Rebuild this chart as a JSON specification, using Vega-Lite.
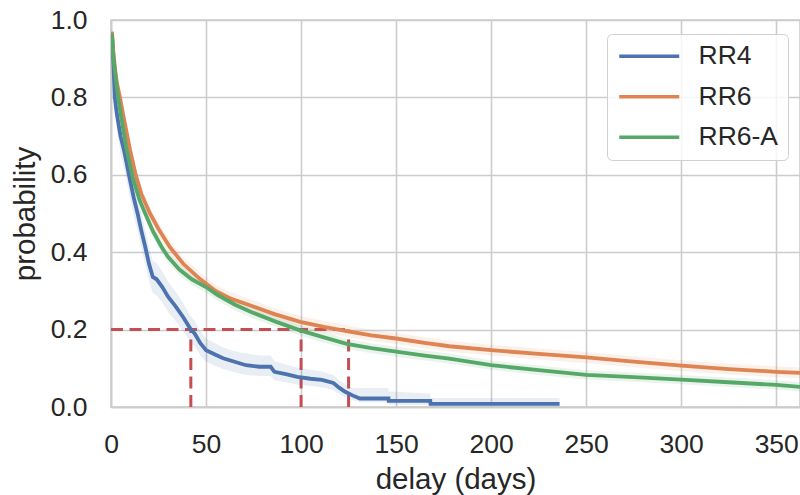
{
  "$schema": "https://vega.github.io/schema/vega-lite/v6.json",
  "width": 689,
  "height": 387,
  "autosize": {"type": "none"},
  "padding": {"left": 111, "top": 20, "right": 0, "bottom": 88},
  "config": {
    "background": "white",
    "font": "Liberation Sans",
    "view": {"stroke": "#cccccc", "strokeWidth": 1.6},
    "axis": {
      "grid": true, "gridColor": "#cccccc", "gridWidth": 1.6,
      "domainColor": "#cccccc", "domainWidth": 1.6, "ticks": false, "labelFlush": false,
      "labelFont": "Liberation Sans", "labelFontSize": 26.5, "labelColor": "#262626",
      "titleFont": "Liberation Sans", "titleFontSize": 29.5, "titleFontWeight": "normal", "titleColor": "#262626"
    },
    "axisX": {"labelPadding": 24, "titlePadding": 8},
    "axisY": {"labelPadding": 24, "titlePadding": 10},
    "legend": {
      "orient": "none", "legendX": 496, "legendY": 14, "title": null,
      "symbolType": "M-3,0H3", "symbolSize": 400, "symbolStrokeWidth": 3.5, "symbolOpacity": 1,
      "symbolOffset": 20, "labelOffset": 36, "rowPadding": 13.5,
      "labelFont": "Liberation Sans", "labelFontSize": 26.5, "labelColor": "#262626",
      "padding": 9, "strokeColor": "#d0d0d0", "fillColor": "rgba(255,255,255,0.8)", "cornerRadius": 5
    }
  },
  "datasets": {
    "ref": [
      {"x": 0, "x2": 125, "y": 0.2, "y2": 0.2},
      {"x": 42, "x2": 42, "y": 0, "y2": 0.2},
      {"x": 100, "x2": 100, "y": 0, "y2": 0.2},
      {"x": 125, "x2": 125, "y": 0, "y2": 0.2}
    ],
    "km": [
      {"g": "RR4", "d": 0.5, "p": 0.965, "lo": 0.95, "hi": 0.98},
      {"g": "RR4", "d": 1, "p": 0.92, "lo": 0.895, "hi": 0.945},
      {"g": "RR4", "d": 2, "p": 0.80, "lo": 0.765, "hi": 0.835},
      {"g": "RR4", "d": 3, "p": 0.76, "lo": 0.72, "hi": 0.80},
      {"g": "RR4", "d": 5, "p": 0.70, "lo": 0.655, "hi": 0.745},
      {"g": "RR4", "d": 7, "p": 0.66, "lo": 0.615, "hi": 0.705},
      {"g": "RR4", "d": 10, "p": 0.586, "lo": 0.54, "hi": 0.632},
      {"g": "RR4", "d": 12, "p": 0.54, "lo": 0.494, "hi": 0.586},
      {"g": "RR4", "d": 14, "p": 0.50, "lo": 0.454, "hi": 0.546},
      {"g": "RR4", "d": 16, "p": 0.455, "lo": 0.41, "hi": 0.50},
      {"g": "RR4", "d": 18, "p": 0.414, "lo": 0.37, "hi": 0.458},
      {"g": "RR4", "d": 20, "p": 0.37, "lo": 0.327, "hi": 0.413},
      {"g": "RR4", "d": 22, "p": 0.336, "lo": 0.294, "hi": 0.378},
      {"g": "RR4", "d": 24, "p": 0.33, "lo": 0.288, "hi": 0.372},
      {"g": "RR4", "d": 27, "p": 0.31, "lo": 0.27, "hi": 0.35},
      {"g": "RR4", "d": 30, "p": 0.285, "lo": 0.246, "hi": 0.324},
      {"g": "RR4", "d": 34, "p": 0.26, "lo": 0.222, "hi": 0.298},
      {"g": "RR4", "d": 38, "p": 0.232, "lo": 0.196, "hi": 0.268},
      {"g": "RR4", "d": 42, "p": 0.20, "lo": 0.166, "hi": 0.234},
      {"g": "RR4", "d": 44, "p": 0.19, "lo": 0.157, "hi": 0.223},
      {"g": "RR4", "d": 47, "p": 0.165, "lo": 0.134, "hi": 0.196},
      {"g": "RR4", "d": 50, "p": 0.147, "lo": 0.117, "hi": 0.177},
      {"g": "RR4", "d": 55, "p": 0.135, "lo": 0.106, "hi": 0.164},
      {"g": "RR4", "d": 59, "p": 0.126, "lo": 0.098, "hi": 0.154},
      {"g": "RR4", "d": 65, "p": 0.117, "lo": 0.09, "hi": 0.144},
      {"g": "RR4", "d": 71, "p": 0.108, "lo": 0.083, "hi": 0.138},
      {"g": "RR4", "d": 78, "p": 0.104, "lo": 0.08, "hi": 0.133},
      {"g": "RR4", "d": 84, "p": 0.104, "lo": 0.08, "hi": 0.133},
      {"g": "RR4", "d": 86, "p": 0.091, "lo": 0.069, "hi": 0.118},
      {"g": "RR4", "d": 92, "p": 0.085, "lo": 0.064, "hi": 0.11},
      {"g": "RR4", "d": 98, "p": 0.078, "lo": 0.058, "hi": 0.102},
      {"g": "RR4", "d": 105, "p": 0.073, "lo": 0.054, "hi": 0.096},
      {"g": "RR4", "d": 111, "p": 0.07, "lo": 0.051, "hi": 0.092},
      {"g": "RR4", "d": 117, "p": 0.062, "lo": 0.044, "hi": 0.083},
      {"g": "RR4", "d": 120, "p": 0.05, "lo": 0.034, "hi": 0.07},
      {"g": "RR4", "d": 123, "p": 0.04, "lo": 0.026, "hi": 0.058},
      {"g": "RR4", "d": 127, "p": 0.03, "lo": 0.018, "hi": 0.05},
      {"g": "RR4", "d": 131, "p": 0.022, "lo": 0.012, "hi": 0.049},
      {"g": "RR4", "d": 146, "p": 0.022, "lo": 0.012, "hi": 0.049},
      {"g": "RR4", "d": 146.1, "p": 0.016, "lo": 0.006, "hi": 0.04},
      {"g": "RR4", "d": 168, "p": 0.016, "lo": 0.006, "hi": 0.035},
      {"g": "RR4", "d": 168.1, "p": 0.008, "lo": 0.001, "hi": 0.023},
      {"g": "RR4", "d": 236, "p": 0.008, "lo": 0.001, "hi": 0.023},

      {"g": "RR6", "d": 0.5, "p": 0.97, "lo": 0.96, "hi": 0.98},
      {"g": "RR6", "d": 1, "p": 0.93, "lo": 0.918, "hi": 0.942},
      {"g": "RR6", "d": 2, "p": 0.88, "lo": 0.866, "hi": 0.894},
      {"g": "RR6", "d": 3, "p": 0.84, "lo": 0.825, "hi": 0.855},
      {"g": "RR6", "d": 4.7, "p": 0.80, "lo": 0.784, "hi": 0.816},
      {"g": "RR6", "d": 7, "p": 0.74, "lo": 0.724, "hi": 0.756},
      {"g": "RR6", "d": 10, "p": 0.665, "lo": 0.648, "hi": 0.682},
      {"g": "RR6", "d": 13, "p": 0.60, "lo": 0.583, "hi": 0.617},
      {"g": "RR6", "d": 16, "p": 0.55, "lo": 0.533, "hi": 0.567},
      {"g": "RR6", "d": 20.5, "p": 0.50, "lo": 0.483, "hi": 0.517},
      {"g": "RR6", "d": 25, "p": 0.46, "lo": 0.443, "hi": 0.477},
      {"g": "RR6", "d": 31, "p": 0.413, "lo": 0.396, "hi": 0.43},
      {"g": "RR6", "d": 38, "p": 0.37, "lo": 0.353, "hi": 0.387},
      {"g": "RR6", "d": 47, "p": 0.33, "lo": 0.313, "hi": 0.347},
      {"g": "RR6", "d": 55, "p": 0.30, "lo": 0.284, "hi": 0.316},
      {"g": "RR6", "d": 63, "p": 0.28, "lo": 0.264, "hi": 0.296},
      {"g": "RR6", "d": 73, "p": 0.263, "lo": 0.247, "hi": 0.279},
      {"g": "RR6", "d": 86, "p": 0.24, "lo": 0.225, "hi": 0.255},
      {"g": "RR6", "d": 99.5, "p": 0.22, "lo": 0.205, "hi": 0.235},
      {"g": "RR6", "d": 112, "p": 0.207, "lo": 0.192, "hi": 0.222},
      {"g": "RR6", "d": 124, "p": 0.196, "lo": 0.181, "hi": 0.211},
      {"g": "RR6", "d": 137, "p": 0.185, "lo": 0.171, "hi": 0.199},
      {"g": "RR6", "d": 150, "p": 0.177, "lo": 0.163, "hi": 0.191},
      {"g": "RR6", "d": 165, "p": 0.166, "lo": 0.152, "hi": 0.18},
      {"g": "RR6", "d": 178, "p": 0.157, "lo": 0.143, "hi": 0.171},
      {"g": "RR6", "d": 200, "p": 0.147, "lo": 0.133, "hi": 0.161},
      {"g": "RR6", "d": 225, "p": 0.137, "lo": 0.123, "hi": 0.151},
      {"g": "RR6", "d": 250, "p": 0.128, "lo": 0.114, "hi": 0.142},
      {"g": "RR6", "d": 275, "p": 0.117, "lo": 0.103, "hi": 0.131},
      {"g": "RR6", "d": 300, "p": 0.107, "lo": 0.093, "hi": 0.121},
      {"g": "RR6", "d": 325, "p": 0.098, "lo": 0.084, "hi": 0.112},
      {"g": "RR6", "d": 350, "p": 0.091, "lo": 0.077, "hi": 0.105},
      {"g": "RR6", "d": 363, "p": 0.088, "lo": 0.074, "hi": 0.102},

      {"g": "RR6-A", "d": 0.5, "p": 0.965, "lo": 0.955, "hi": 0.975},
      {"g": "RR6-A", "d": 1, "p": 0.92, "lo": 0.908, "hi": 0.932},
      {"g": "RR6-A", "d": 2, "p": 0.87, "lo": 0.857, "hi": 0.883},
      {"g": "RR6-A", "d": 3.7, "p": 0.80, "lo": 0.786, "hi": 0.814},
      {"g": "RR6-A", "d": 6, "p": 0.73, "lo": 0.715, "hi": 0.745},
      {"g": "RR6-A", "d": 8, "p": 0.67, "lo": 0.655, "hi": 0.685},
      {"g": "RR6-A", "d": 11.6, "p": 0.59, "lo": 0.575, "hi": 0.605},
      {"g": "RR6-A", "d": 15, "p": 0.535, "lo": 0.52, "hi": 0.55},
      {"g": "RR6-A", "d": 18, "p": 0.50, "lo": 0.485, "hi": 0.515},
      {"g": "RR6-A", "d": 22, "p": 0.455, "lo": 0.44, "hi": 0.47},
      {"g": "RR6-A", "d": 26.7, "p": 0.413, "lo": 0.398, "hi": 0.428},
      {"g": "RR6-A", "d": 30, "p": 0.388, "lo": 0.373, "hi": 0.403},
      {"g": "RR6-A", "d": 36, "p": 0.355, "lo": 0.34, "hi": 0.37},
      {"g": "RR6-A", "d": 42.5, "p": 0.33, "lo": 0.315, "hi": 0.345},
      {"g": "RR6-A", "d": 50, "p": 0.31, "lo": 0.295, "hi": 0.325},
      {"g": "RR6-A", "d": 56, "p": 0.29, "lo": 0.275, "hi": 0.305},
      {"g": "RR6-A", "d": 65, "p": 0.265, "lo": 0.25, "hi": 0.28},
      {"g": "RR6-A", "d": 74, "p": 0.245, "lo": 0.23, "hi": 0.26},
      {"g": "RR6-A", "d": 87, "p": 0.22, "lo": 0.206, "hi": 0.234},
      {"g": "RR6-A", "d": 99.5, "p": 0.198, "lo": 0.184, "hi": 0.212},
      {"g": "RR6-A", "d": 112, "p": 0.18, "lo": 0.166, "hi": 0.194},
      {"g": "RR6-A", "d": 124, "p": 0.163, "lo": 0.15, "hi": 0.176},
      {"g": "RR6-A", "d": 137, "p": 0.152, "lo": 0.139, "hi": 0.165},
      {"g": "RR6-A", "d": 150, "p": 0.143, "lo": 0.13, "hi": 0.156},
      {"g": "RR6-A", "d": 165, "p": 0.133, "lo": 0.12, "hi": 0.146},
      {"g": "RR6-A", "d": 178, "p": 0.125, "lo": 0.112, "hi": 0.138},
      {"g": "RR6-A", "d": 200, "p": 0.108, "lo": 0.096, "hi": 0.12},
      {"g": "RR6-A", "d": 225, "p": 0.095, "lo": 0.083, "hi": 0.107},
      {"g": "RR6-A", "d": 250, "p": 0.083, "lo": 0.071, "hi": 0.095},
      {"g": "RR6-A", "d": 275, "p": 0.077, "lo": 0.065, "hi": 0.089},
      {"g": "RR6-A", "d": 300, "p": 0.071, "lo": 0.059, "hi": 0.083},
      {"g": "RR6-A", "d": 325, "p": 0.064, "lo": 0.052, "hi": 0.076},
      {"g": "RR6-A", "d": 350, "p": 0.057, "lo": 0.045, "hi": 0.069},
      {"g": "RR6-A", "d": 363, "p": 0.052, "lo": 0.04, "hi": 0.064}
    ]
  },
  "layer": [
    {
      "data": {"name": "ref"},
      "mark": {"type": "rule", "color": "#c44e52", "strokeWidth": 3, "strokeDash": [12, 6.5]},
      "encoding": {
        "x": {"field": "x", "type": "quantitative", "scale": {"domain": [0, 362.5], "nice": false},
              "axis": {"title": "delay (days)", "values": [0, 50, 100, 150, 200, 250, 300, 350]}},
        "x2": {"field": "x2"},
        "y": {"field": "y", "type": "quantitative", "scale": {"domain": [0, 1], "nice": false},
              "axis": {"title": "probability", "values": [0, 0.2, 0.4, 0.6, 0.8, 1.0], "format": ".1f"}},
        "y2": {"field": "y2"}
      }
    },
    {
      "data": {"name": "km"},
      "mark": {"type": "area", "opacity": 0.12, "clip": true},
      "encoding": {
        "x": {"field": "d", "type": "quantitative", "title": "delay (days)"},
        "y": {"field": "lo", "type": "quantitative", "title": "probability"},
        "y2": {"field": "hi"},
        "color": {"field": "g", "type": "nominal",
                  "scale": {"domain": ["RR4", "RR6", "RR6-A"], "range": ["#4c72b0", "#dd8452", "#55a868"]}}
      }
    },
    {
      "data": {"name": "km"},
      "mark": {"type": "line", "strokeWidth": 3.8, "clip": true},
      "encoding": {
        "x": {"field": "d", "type": "quantitative", "title": "delay (days)"},
        "y": {"field": "p", "type": "quantitative", "title": "probability"},
        "color": {"field": "g", "type": "nominal",
                  "scale": {"domain": ["RR4", "RR6", "RR6-A"], "range": ["#4c72b0", "#dd8452", "#55a868"]}}
      }
    }
  ]
}
